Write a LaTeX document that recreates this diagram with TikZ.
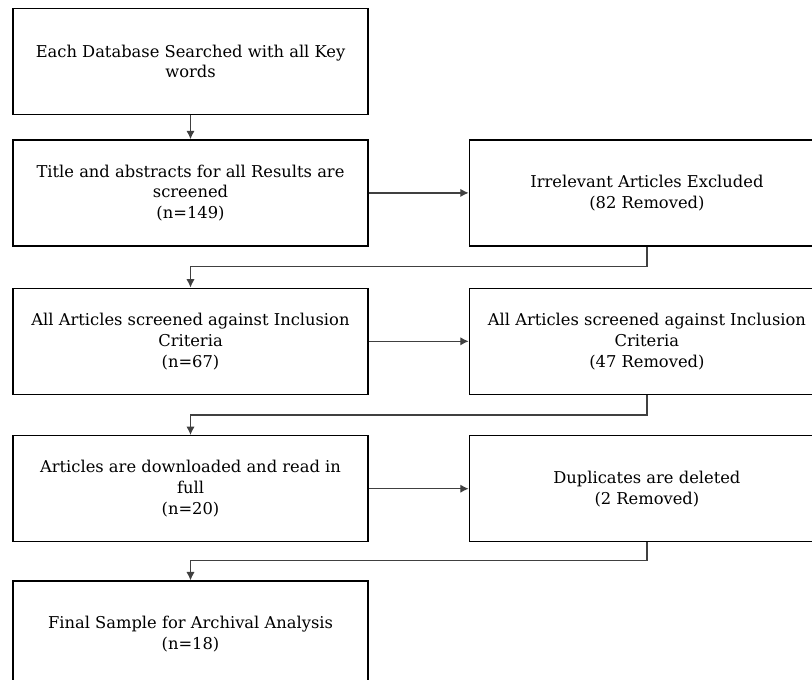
\documentclass[tikz,border=0pt]{standalone}
\usepackage{fontspec}
\setmainfont{DejaVu Serif}
\usepackage{tikz}
\usetikzlibrary{positioning,arrows.meta}
\tikzset{>={Latex[length=6pt,width=6pt]}}

\begin{document}
\begin{tikzpicture}[
stagebox/.style={rectangle, align=center, draw=black, line width=1pt, minimum width=8.875cm, minimum height=2.65cm, font=\fontsize{11.6}{14.8}\selectfont},
flow/.style={->, line width=1pt, draw=black!75},
]
\useasboundingbox (0,0) rectangle (20.3,-16.975);
%Nodes
\node[stagebox](Search) at (4.7625,-1.5375){Each Database Searched with all Key \\ words};
\node[stagebox](Screen)[below=0.6cm of Search]{Title and abstracts for all Results are \\ screened \\ (n=149)};
\node[stagebox](Irrelevant)[right=2.5cm of Screen]{Irrelevant Articles Excluded \\ (82 Removed)};
\node[stagebox](Inclusion)[below=1.025cm of Screen]{All Articles screened against Inclusion \\ Criteria \\ (n=67)};
\node[stagebox](Excluded)[right=2.5cm of Inclusion]{All Articles screened against Inclusion \\ Criteria \\ (47 Removed)};
\node[stagebox](Fulltext)[below=1cm of Inclusion]{Articles are downloaded and read in \\ full \\ (n=20)};
\node[stagebox](Duplicates)[right=2.5cm of Fulltext]{Duplicates are deleted \\ (2 Removed)};
\node[stagebox](Final)[below=0.95cm of Fulltext]{Final Sample for Archival Analysis \\ (n=18)};

%Lines
\draw[flow] (Search) -- (Screen);
\draw[flow] (Screen) -- (Irrelevant);
\draw[flow] (Irrelevant.south) -- ++(0,-0.5) -| (Inclusion.north);
\draw[flow] (Inclusion) -- (Excluded);
\draw[flow] (Excluded.south) -- ++(0,-0.5) -| (Fulltext.north);
\draw[flow] (Fulltext) -- (Duplicates);
\draw[flow] (Duplicates.south) -- ++(0,-0.45) -| (Final.north);
\end{tikzpicture}
\end{document}
